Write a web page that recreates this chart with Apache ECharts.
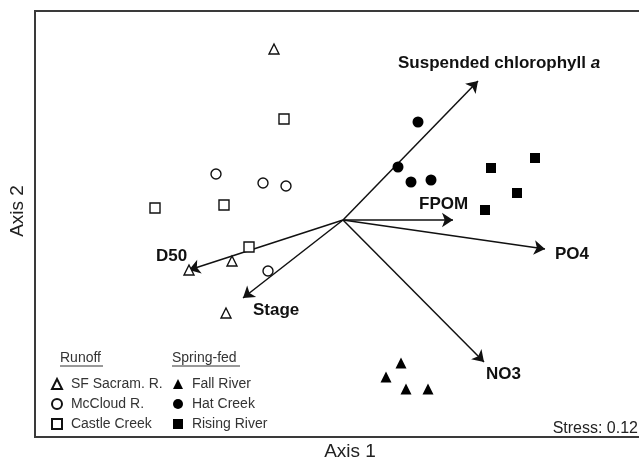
<!DOCTYPE html>
<html>
<head>
<meta charset="utf-8">
<script src="https://cdn.jsdelivr.net/npm/echarts@6/dist/echarts.min.js"></script>
<style>
  html, body { margin: 0; padding: 0; background: #fff; }
  #chart { width: 639px; height: 461px; }
</style>
</head>
<body>
<div id="chart"></div>
<script>
// NMDS site scores (Axis 1, Axis 2)
const sfSacram = [[-0.345, 0.855], [-0.77, -0.25], [-0.555, -0.205], [-0.585, -0.465]]
const mcCloud = [[-0.635, 0.23], [-0.40, 0.185], [-0.285, 0.17], [-0.375, -0.255]]
const castleCreek = [[-0.295, 0.505], [-0.94, 0.06], [-0.595, 0.075], [-0.47, -0.135]]
const fallRiver = [[0.29, -0.715], [0.215, -0.785], [0.315, -0.845], [0.425, -0.845]]
const hatCreek = [[0.375, 0.49], [0.275, 0.265], [0.34, 0.19], [0.44, 0.20]]
const risingRiver = [[0.74, 0.26], [0.96, 0.31], [0.87, 0.135], [0.71, 0.05]]

// environmental vectors (tip coordinates, drawn from the origin)
const vectorNames = ['Suspended chlorophyll a', 'FPOM', 'PO4', 'NO3', 'D50', 'Stage']
const vectorTips = [[0.675, 0.695], [0.55, 0], [1.01, -0.145], [0.705, -0.71], [-0.77, -0.25], [-0.50, -0.39]]

const FONT = 'Liberation Sans, Arial, sans-serif'

const chart = echarts.init(document.getElementById('chart'))

function openSeries(name, data, symbol, size) {
  return {
    name, type: 'scatter', data, symbol, symbolSize: size,
    itemStyle: { color: '#fff', borderColor: '#111', borderWidth: 1.4, opacity: 1 },
    emphasis: { disabled: true },
  }
}
function filledSeries(name, data, symbol, size) {
  return {
    name, type: 'scatter', data, symbol, symbolSize: size,
    itemStyle: { color: '#000', opacity: 1 },
    emphasis: { disabled: true },
  }
}

const boldLabel = { fontFamily: FONT, fontWeight: 'bold', fontSize: 17, fill: '#111' }
function label(text, x, y) {
  return { type: 'text', x, y, style: Object.assign({ text, verticalAlign: 'middle', textVerticalAlign: 'middle' }, boldLabel) }
}
function plain(text, x, y, size, extra) {
  return Object.assign({ type: 'text', x, y, style: { text, fontFamily: FONT, fontSize: size, fill: '#222', align: 'center', textAlign: 'center', verticalAlign: 'middle', textVerticalAlign: 'middle' } }, extra || {})
}

chart.setOption({
  animation: false,
  grid: { left: 35, top: 11, right: 0, bottom: 24 },
  xAxis: {
    type: 'value', min: -1.54, max: 1.48,
    axisLine: { show: false }, axisTick: { show: false }, axisLabel: { show: false }, splitLine: { show: false },
  },
  yAxis: {
    type: 'value', min: -1.085, max: 1.045,
    axisLine: { show: false }, axisTick: { show: false }, axisLabel: { show: false }, splitLine: { show: false },
  },
  legend: [
    {
      orient: 'vertical', left: 46, top: 372, itemWidth: 10, itemHeight: 10, itemGap: 6,
      data: ['SF Sacram. R.', 'McCloud R.', 'Castle Creek'],
      formatter: (name) => ' ' + name,
      textStyle: { fontFamily: FONT, fontSize: 14, color: '#333' },
      selectedMode: false,
    },
    {
      orient: 'vertical', left: 168, top: 372, itemWidth: 10, itemHeight: 10, itemGap: 6,
      data: ['Fall River', 'Hat Creek', 'Rising River'],
      formatter: (name) => ' ' + name,
      textStyle: { fontFamily: FONT, fontSize: 14, color: '#333' },
      selectedMode: false,
    },
  ],
  graphic: [
    // plot frame: open on the right, as in the original figure
    { type: 'polyline', shape: { points: [[645, 11], [35, 11], [35, 437], [645, 437]] }, style: { stroke: '#3a3a3a', lineWidth: 2, fill: null } },
    { type: 'text', x: 60, y: 358, style: { text: 'Runoff', fontFamily: FONT, fontSize: 14, fill: '#333', verticalAlign: 'middle', textVerticalAlign: 'middle' } },
    { type: 'line', shape: { x1: 60, y1: 366, x2: 103, y2: 366 }, style: { stroke: '#333', lineWidth: 1 } },
    { type: 'text', x: 172, y: 358, style: { text: 'Spring-fed', fontFamily: FONT, fontSize: 14, fill: '#333', verticalAlign: 'middle', textVerticalAlign: 'middle' } },
    { type: 'line', shape: { x1: 172, y1: 366, x2: 240, y2: 366 }, style: { stroke: '#333', lineWidth: 1 } },
    {
      type: 'text', x: 398, y: 63,
      style: {
        text: '{b|Suspended chlorophyll }{i|a}', verticalAlign: 'middle', textVerticalAlign: 'middle',
        rich: {
          b: { fontFamily: FONT, fontWeight: 'bold', fontSize: 17, fill: '#111', color: '#111' },
          i: { fontFamily: FONT, fontWeight: 'bold', fontStyle: 'italic', fontSize: 17, fill: '#111', color: '#111' },
        },
      },
    },
    label('FPOM', 419, 204),
    label('PO4', 555, 254),
    label('NO3', 486, 374),
    label('D50', 156, 256),
    label('Stage', 253, 310),
    plain('Axis 1', 350, 452, 19),
    plain('Axis 2', 18, 211, 19, { rotation: Math.PI / 2 }),
    { type: 'text', right: 1, y: 421, style: { text: 'Stress: 0.12', fontFamily: FONT, fontSize: 16, fill: '#222' } },
  ],
  series: [
    {
      type: 'lines', coordinateSystem: 'cartesian2d', z: 1,
      symbol: ['none', 'arrow'], symbolSize: [0, 11],
      lineStyle: { color: '#111', width: 1.5, opacity: 1 },
      data: vectorTips.map((tip, i) => ({ name: vectorNames[i], coords: [[0, 0], tip] })),
      emphasis: { disabled: true },
    },
    openSeries('SF Sacram. R.', sfSacram, 'triangle', 10),
    openSeries('McCloud R.', mcCloud, 'circle', 10),
    openSeries('Castle Creek', castleCreek, 'rect', 10),
    filledSeries('Fall River', fallRiver, 'triangle', 11),
    filledSeries('Hat Creek', hatCreek, 'circle', 11),
    filledSeries('Rising River', risingRiver, 'rect', 10),
  ],
})
</script>
</body>
</html>
